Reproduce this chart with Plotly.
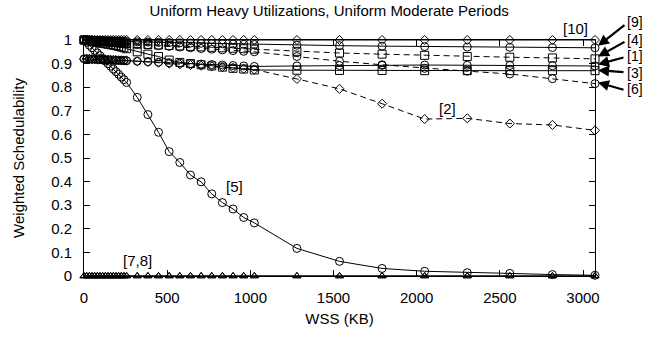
import plotly.graph_objects as go

WSS = [0, 16, 32, 48, 64, 80, 96, 112, 128, 144, 160, 176, 192, 208, 224, 240, 256,
       320, 384, 448, 512, 576, 640, 704, 768, 832, 896, 960, 1024,
       1280, 1536, 1792, 2048, 2304, 2560, 2816, 3072]

s10 = [1.0, 1.0, 1.0, 1.0, 1.0, 1.0, 1.0, 1.0, 1.0, 1.0, 1.0, 1.0, 1.0, 1.0, 1.0, 1.0, 1.0,
       1.0, 1.0, 1.0, 1.0, 1.0, 1.0, 1.0, 1.0, 1.0, 1.0, 1.0, 1.0,
       1.0, 1.0, 1.0, 1.0, 1.0, 1.0, 1.0, 1.0]
s9 = [1.0, 1.0, 1.0, 1.0, 0.999, 0.999, 0.998, 0.998, 0.997, 0.997, 0.996, 0.996, 0.995, 0.995, 0.994, 0.994, 0.993,
      0.992, 0.991, 0.99, 0.989, 0.988, 0.987, 0.986, 0.985, 0.984, 0.983, 0.982, 0.981,
      0.978, 0.976, 0.974, 0.972, 0.97, 0.969, 0.968, 0.967]
s4 = [1.0, 1.0, 0.999, 0.998, 0.997, 0.996, 0.995, 0.994, 0.993, 0.992, 0.991, 0.99, 0.989, 0.988, 0.987, 0.986, 0.985,
      0.983, 0.981, 0.979, 0.977, 0.975, 0.973, 0.971, 0.969, 0.967, 0.965, 0.963, 0.961,
      0.952, 0.945, 0.94, 0.935, 0.93, 0.927, 0.924, 0.92]
s6 = [1.0, 1.0, 0.999, 0.998, 0.997, 0.996, 0.995, 0.994, 0.993, 0.992, 0.991, 0.99, 0.989, 0.988, 0.987, 0.986, 0.985,
      0.982, 0.979, 0.976, 0.973, 0.97, 0.967, 0.964, 0.961, 0.958, 0.955, 0.952, 0.95,
      0.93, 0.91, 0.895, 0.88, 0.868, 0.856, 0.836, 0.815]
s3 = [1.0, 0.998, 0.996, 0.994, 0.992, 0.99, 0.988, 0.986, 0.984, 0.982, 0.98, 0.978, 0.976, 0.973, 0.97, 0.967, 0.963,
      0.95, 0.94, 0.93, 0.915, 0.905, 0.9, 0.895, 0.89, 0.885, 0.88, 0.877, 0.873,
      0.872, 0.871, 0.871, 0.87, 0.87, 0.87, 0.87, 0.87]
s1 = [0.92, 0.92, 0.919, 0.919, 0.918, 0.918, 0.917, 0.917, 0.916, 0.916, 0.915, 0.915, 0.914, 0.914, 0.913, 0.913, 0.912,
      0.91, 0.908, 0.906, 0.904, 0.902, 0.9, 0.898, 0.896, 0.894, 0.892, 0.89, 0.888,
      0.89, 0.892, 0.893, 0.894, 0.893, 0.892, 0.891, 0.89]
s2 = [0.92, 0.92, 0.92, 0.919, 0.919, 0.918, 0.918, 0.917, 0.917, 0.916, 0.916, 0.915, 0.915, 0.914, 0.914, 0.913, 0.913,
      0.91, 0.907, 0.904, 0.9, 0.897, 0.894, 0.891, 0.888, 0.885, 0.882, 0.878, 0.875,
      0.835, 0.793, 0.73, 0.665, 0.668, 0.646, 0.64, 0.617]
s5 = [1.0, 0.99, 0.978, 0.967, 0.956, 0.945, 0.934, 0.922, 0.911, 0.9, 0.889, 0.877, 0.866, 0.855, 0.843, 0.832, 0.82,
      0.757, 0.684, 0.609, 0.527, 0.481, 0.428, 0.399, 0.348, 0.311, 0.284, 0.248, 0.225,
      0.117, 0.062, 0.032, 0.02, 0.014, 0.011, 0.006, 0.003]
s7 = [0.0] * 37
s8 = [0.0] * 37

series = [
    ("[7]", s7, "triangle-up-open", "solid", 7),
    ("[8]", s8, "triangle-up-open", "solid", 7),
    ("[5]", s5, "circle-open", "solid", 8),
    ("[2]", s2, "diamond-open", "6px,4px", 7),
    ("[1]", s1, "circle-open", "solid", 8),
    ("[3]", s3, "square-open", "solid", 8),
    ("[6]", s6, "circle-open", "6px,4px", 8),
    ("[4]", s4, "square-open", "6px,4px", 8),
    ("[9]", s9, "circle-open", "solid", 8),
    ("[10]", s10, "diamond-open", "solid", 7),
]

fig = go.Figure()
for name, ys, sym, dash, msize in series:
    fig.add_trace(go.Scatter(
        x=WSS, y=ys, name=name, mode="lines+markers",
        line=dict(color="black", width=1, dash=dash),
        marker=dict(symbol=sym, size=msize, color="black", line=dict(width=1, color="black")),
        cliponaxis=False, showlegend=False))

FONT = "Liberation Sans, Arial, sans-serif"
L, R, T, B = 84, 62, 40, 55
W, H = 657, 337
PW, PH = W - L - R, H - T - B

def px(x):
    return (x - L) / PW

def py(y):
    return (H - B - y) / PH

annotations = []
# inline labels
for txt, x, y in [("[10]", 575, 28), ("[2]", 447, 110), ("[5]", 234, 190), ("[7,8]", 137, 266)]:
    annotations.append(dict(text=txt, x=px(x), y=py(y), xref="paper", yref="paper",
                            xanchor="center", yanchor="middle",
                            showarrow=False, font=dict(size=15, color="black", family=FONT)))
# right labels with arrows (tip and tail given in pixels)
for txt, lab_y, tip, tail in [("[9]", 22, (598, 46), (625, 25)),
                              ("[4]", 39.5, (598, 57), (625, 42)),
                              ("[1]", 56.5, (598, 65), (624, 58)),
                              ("[3]", 73.5, (598, 71), (624, 73)),
                              ("[6]", 90.5, (598, 83.5), (624, 91))]:
    annotations.append(dict(text=txt, x=px(635), y=py(lab_y), xref="paper", yref="paper",
                            xanchor="center", yanchor="middle", borderpad=0,
                            showarrow=False, font=dict(size=14, color="black", family=FONT)))
    annotations.append(dict(text=" ", x=px(tip[0]), y=py(tip[1]), xref="paper", yref="paper",
                            ax=tail[0] - tip[0], ay=tail[1] - tip[1], axref="pixel", ayref="pixel",
                            showarrow=True, arrowhead=2, arrowsize=1.0, arrowwidth=2.2,
                            arrowcolor="black", standoff=0, startstandoff=0,
                            font=dict(size=1), borderpad=0))

fig.update_layout(
    width=W, height=H,
    margin=dict(l=L, r=R, t=T, b=B),
    paper_bgcolor="white", plot_bgcolor="white",
    font=dict(family=FONT, size=14, color="black"),
    title=dict(text="Uniform Heavy Utilizations, Uniform Moderate Periods",
               x=px(340), xanchor="center", y=1 - 11 / H, yanchor="middle",
               font=dict(size=15, family=FONT, color="black")),
    annotations=annotations,
)
fig.update_xaxes(range=[0, 3072], tickvals=[0, 500, 1000, 1500, 2000, 2500, 3000],
                 showgrid=False, zeroline=False, showline=True, linecolor="black", linewidth=1,
                 mirror="ticks", ticks="inside", ticklen=6, tickcolor="black",
                 tickfont=dict(size=15), ticklabelstandoff=8,
                 title=dict(text="WSS (KB)", font=dict(size=15), standoff=8))
fig.update_yaxes(range=[0, 1], tickvals=[0, 0.1, 0.2, 0.3, 0.4, 0.5, 0.6, 0.7, 0.8, 0.9, 1],
                 ticktext=["0", "0.1", "0.2", "0.3", "0.4", "0.5", "0.6", "0.7", "0.8", "0.9", "1"],
                 showgrid=False, zeroline=False, showline=True, linecolor="black", linewidth=1,
                 mirror="ticks", ticks="inside", ticklen=6, tickcolor="black",
                 tickfont=dict(size=15), ticklabelstandoff=8,
                 title=dict(text="Weighted Schedulability", font=dict(size=15), standoff=22))

fig.write_html("out.html")
